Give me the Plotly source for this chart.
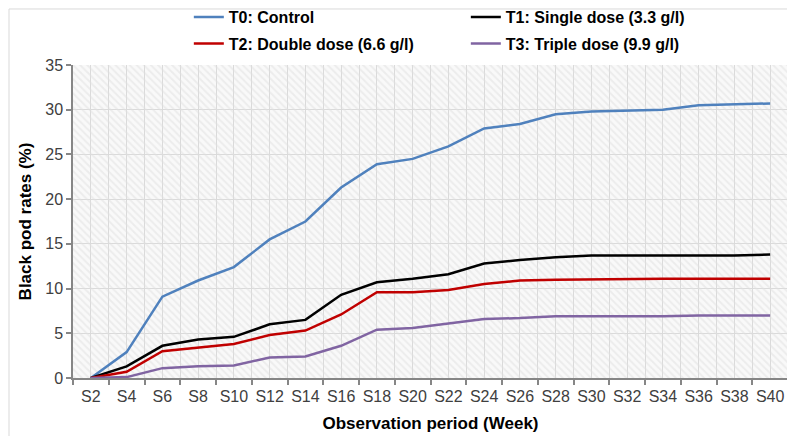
import plotly.graph_objects as go

# ---- data ----
weeks = ["S2", "S4", "S6", "S8", "S10", "S12", "S14", "S16", "S18", "S20",
         "S22", "S24", "S26", "S28", "S30", "S32", "S34", "S36", "S38", "S40"]

t0_control = [0, 2.9, 9.1, 10.9, 12.4, 15.5, 17.5, 21.3, 23.9, 24.5,
              25.9, 27.9, 28.4, 29.5, 29.8, 29.9, 30.0, 30.5, 30.6, 30.7]
t1_single = [0, 1.3, 3.6, 4.3, 4.6, 6.0, 6.5, 9.3, 10.7, 11.1,
             11.6, 12.8, 13.2, 13.5, 13.7, 13.7, 13.7, 13.7, 13.7, 13.8]
t2_double = [0, 0.7, 3.0, 3.4, 3.8, 4.8, 5.3, 7.1, 9.6, 9.6,
             9.85, 10.5, 10.9, 11.0, 11.05, 11.1, 11.1, 11.1, 11.1, 11.1]
t3_triple = [0, 0.1, 1.1, 1.3, 1.4, 2.3, 2.4, 3.6, 5.4, 5.6,
             6.1, 6.6, 6.7, 6.9, 6.9, 6.9, 6.9, 7.0, 7.0, 7.0]

series_names = ["T0: Control", "T1: Single dose (3.3 g/l)",
                "T2: Double dose (6.6 g/l)", "T3: Triple dose (9.9 g/l)"]
series_values = [t0_control, t1_single, t2_double, t3_triple]
series_colors = ["#4F81BD", "#000000", "#C00000", "#8064A2"]
series_legends = ["legend", "legend", "legend2", "legend2"]

n = len(weeks)
FONT = "Liberation Sans, Arial, sans-serif"
AXIS_GREY = "#868686"
GRID = "#dadada"

fig = go.Figure()

# hatched plot-area background (decoration only), on the base axes
fig.add_trace(go.Bar(
    x=[0.5], y=[1], width=[1], xaxis="x", yaxis="y",
    marker=dict(color="rgba(0,0,0,0)", line_width=0,
                pattern=dict(shape="\\", fgcolor="#e0e0e0",
                             bgcolor="rgba(0,0,0,0)", size=5, solidity=0.4)),
    hoverinfo="skip", showlegend=False))

for name, vals, col, lg in zip(series_names, series_values, series_colors, series_legends):
    fig.add_trace(go.Scatter(
        x=weeks, y=vals, name=name, mode="lines",
        line=dict(color=col, width=2.5),
        xaxis="x2", yaxis="y2", legend=lg))

# outer chart border (top and left edges visible in the reference)
for x0, y0, x1, y1 in [(-0.0895, 1.179, 1.2, 1.179), (-0.0895, 1.179, -0.0895, -0.3)]:
    fig.add_shape(type="line", xref="paper", yref="paper",
                  x0=x0, y0=y0, x1=x1, y1=y1,
                  line=dict(color="#d9d9d9", width=1))

legend_common = dict(orientation="h", xanchor="left", yanchor="middle",
                     entrywidth=232, entrywidthmode="pixels",
                     font=dict(family=FONT, size=16, color="#000000", weight="bold"),
                     bgcolor="rgba(0,0,0,0)", tracegroupgap=0, itemwidth=30)

fig.update_layout(
    width=787, height=428,
    margin=dict(l=65, r=7, t=57, b=58, autoexpand=False),
    paper_bgcolor="#ffffff",
    plot_bgcolor="#f9f9f9",
    font=dict(family=FONT, size=16, color="#404040"),
    bargap=0,
    xaxis=dict(range=[0, 1], showticklabels=False, ticks="", showline=False,
               zeroline=False, showgrid=True, gridcolor=GRID, gridwidth=1,
               tickmode="array", tickvals=[(i + 0.5) / n for i in range(n)],
               fixedrange=True),
    yaxis=dict(range=[0, 1], showticklabels=False, ticks="", showline=False,
               zeroline=False, showgrid=False, fixedrange=True),
    xaxis2=dict(overlaying="x", type="category", range=[-0.5, n - 0.5],
                tickson="boundaries", ticks="outside", ticklen=5,
                tickcolor=AXIS_GREY, tickwidth=1.5, tickangle=0,
                ticklabelstandoff=3,
                showline=True, linecolor=AXIS_GREY, linewidth=1.5,
                showgrid=True, gridcolor=GRID, gridwidth=1, zeroline=False,
                tickfont=dict(family=FONT, size=16, color="#404040"),
                automargin=False,
                title=dict(text="Observation period (Week)", standoff=13,
                           font=dict(family=FONT, size=17, color="#000000", weight="bold"))),
    yaxis2=dict(overlaying="y", range=[0, 35], dtick=5, tick0=0,
                ticks="outside", ticklen=5, tickcolor=AXIS_GREY, tickwidth=1.5,
                showline=True, linecolor=AXIS_GREY, linewidth=1.5,
                showgrid=True, gridcolor=GRID, gridwidth=1, zeroline=False,
                tickfont=dict(family=FONT, size=16, color="#404040"),
                automargin=False,
                title=dict(text="Black pod rates (%)", standoff=9,
                           font=dict(family=FONT, size=17, color="#000000", weight="bold"))),
    legend=dict(x=0.162, y=1.153, **legend_common),
    legend2=dict(x=0.162, y=1.068, **legend_common),
)

fig.write_html("out.html")
